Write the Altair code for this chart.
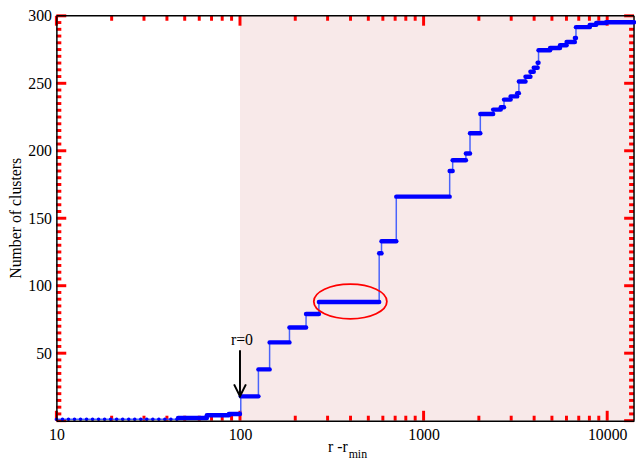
import math
import altair as alt
import pandas as pd

W, H = 585, 410
FONT = "Liberation Serif"

# ---- data: plateaus of the step curve (start r, end r, number of clusters)
seg_start = [10, 46, 66, 87, 101, 126, 145, 186, 229, 269, 573, 590, 710, 1387, 1440, 1700, 1790,
             2037, 2393, 2632, 2742, 2979, 3234, 3304, 3590, 3819, 3981, 4180,
             4227, 4887, 5534, 6010, 6668, 6760, 8035, 8716, 9867]
seg_end = [46, 66, 87, 100, 126, 145, 186, 229, 269, 573, 590, 710, 1387, 1440, 1700, 1790, 2037,
           2393, 2632, 2742, 2979, 3234, 3304, 3590, 3819, 3981, 4180, 4227,
           4887, 5534, 6010, 6668, 6760, 8035, 8716, 9867, 14000]
seg_level = [1, 2, 4, 5, 18, 38, 58, 69, 79, 88, 124, 133, 166, 185, 193, 198, 213,
             227.3, 230.5, 232.2, 237.9, 240.3, 242.7, 251.3, 254.9, 258.6, 261.5, 265.2,
             274.5, 276.2, 278.2, 280.6, 283.5, 291.6, 293.3, 294.7, 295.2]

x_major = [10, 100, 1000, 10000]
x_minor = [m * d for d in (10, 100, 1000) for m in range(2, 10)]
y_major = [0, 50, 100, 150, 200, 250, 300]
y_minor = [v for v in range(0, 301, 5) if v % 50]
y_labels = [50, 100, 150, 200, 250, 300]

X_MIN, X_MAX = 10, 14000
Y_MIN, Y_MAX = 0, 300
shade_from = 100

ellipse_center = (399, 88.3)
arrow_x, arrow_top, arrow_tip = 100, 52.2, 18.1
label_r0 = (100, 55.9)

MAJ, MIN = 10, 5


def ylen(px):
    return px * (Y_MAX - Y_MIN) / H


def xfac(px):
    return 10 ** (px / W * math.log10(X_MAX / X_MIN))


vt = []
for vals, ln in ((x_major, MAJ), (x_minor, MIN)):
    for v in vals:
        vt.append({"tx": float(v), "ty": float(Y_MIN), "ty2": Y_MIN + ylen(ln)})
        vt.append({"tx": float(v), "ty": float(Y_MAX), "ty2": Y_MAX - ylen(ln)})
ht = []
for vals, ln in ((y_major, MAJ), (y_minor, MIN)):
    for v in vals:
        ht.append({"tx": float(X_MIN), "tx2": X_MIN * xfac(ln), "ty": float(v)})
        ht.append({"tx": X_MAX / xfac(ln), "tx2": float(X_MAX), "ty": float(v)})
vticks = pd.DataFrame(vt)
hticks = pd.DataFrame(ht)

segs = pd.DataFrame({"x": seg_start, "x2": seg_end, "y": seg_level})
first = segs.iloc[:1]
rest = segs.iloc[1:]
line = pd.DataFrame({"x": seg_start + [seg_end[-1]], "y": seg_level + [seg_level[-1]]})
shade = pd.DataFrame({"x": [shade_from], "x2": [X_MAX], "y": [Y_MIN], "y2": [Y_MAX]})
frame_h = pd.DataFrame({"x": [X_MIN], "x2": [X_MAX], "y": [Y_MAX]})
frame_v = pd.DataFrame({"x": [X_MAX], "y": [Y_MIN], "y2": [Y_MAX]})
ell = pd.DataFrame({"x": [ellipse_center[0]], "y": [ellipse_center[1]]})
arrow = pd.DataFrame({"x": [arrow_x], "y": [arrow_top], "y2": [arrow_tip]})
head = pd.DataFrame({"x": [arrow_x], "y": [arrow_tip]})
r0 = pd.DataFrame({"x": [label_r0[0]], "y": [label_r0[1]], "t": ["r=0"]})
one = pd.DataFrame({"a": [0]})

xs = alt.Scale(type="log", domain=[X_MIN, X_MAX], nice=False)
ys = alt.Scale(domain=[Y_MIN, Y_MAX], nice=False)
xaxis = alt.Axis(values=x_major, format="d", title=None, ticks=False, grid=False,
                 labelFont=FONT, labelFontSize=16, labelColor="black", labelPadding=6,
                 domainColor="black", domainWidth=1.5, zindex=1, labelFlush=False)
yaxis = alt.Axis(values=y_labels, title=None, ticks=False, grid=False,
                 labelFont=FONT, labelFontSize=16, labelColor="black", labelPadding=5,
                 domainColor="black", domainWidth=1.5, zindex=1, labelFlush=False)


def X(f="x"):
    return alt.X(f"{f}:Q", scale=xs, axis=xaxis)


def Y(f="y"):
    return alt.Y(f"{f}:Q", scale=ys, axis=yaxis)


layers = []
layers.append(alt.Chart(shade).mark_rect(color="#f8e9e9").encode(x=X(), x2="x2", y=Y(), y2="y2"))
layers.append(alt.Chart(vticks).mark_rule(color="red", strokeWidth=3)
              .encode(x=X("tx"), y=Y("ty"), y2="ty2"))
layers.append(alt.Chart(hticks).mark_rule(color="red", strokeWidth=3)
              .encode(x=X("tx"), x2="tx2", y=Y("ty")))
layers.append(alt.Chart(frame_h).mark_rule(color="black", strokeWidth=1.5).encode(x=X(), x2="x2", y=Y()))
layers.append(alt.Chart(frame_v).mark_rule(color="black", strokeWidth=1.5).encode(x=X(), y=Y(), y2="y2"))

layers.append(alt.Chart(line).mark_line(interpolate="step-after", color="#2a4bff", strokeWidth=1.5,
                                        opacity=0.85).encode(x=X(), y=Y()))
layers.append(alt.Chart(first).mark_rule(color="#0000ff", strokeWidth=3.5, strokeCap="round",
                                         strokeDash=[0.1, 6]).encode(x=X(), x2="x2", y=Y()))
layers.append(alt.Chart(rest).mark_rule(color="#0000ff", strokeWidth=4.5, strokeCap="round")
              .encode(x=X(), x2="x2", y=Y()))

ellipse_path = ("M -1 0 C -1 -0.261 -0.552 -0.473 0 -0.473 C 0.552 -0.473 1 -0.261 1 0 "
                "C 1 0.261 0.552 0.473 0 0.473 C -0.552 0.473 -1 0.261 -1 0 Z")
layers.append(alt.Chart(ell).mark_point(shape=ellipse_path, size=74 * 74, filled=False,
                                        color="#ff0000", strokeWidth=1.8, opacity=1)
              .encode(x=X(), y=Y()))

layers.append(alt.Chart(arrow).mark_rule(color="black", strokeWidth=2).encode(x=X(), y=Y(), y2="y2"))
layers.append(alt.Chart(head).mark_point(shape="M -1 -2 L 0 0 L 1 -2", size=144, filled=False,
                                         color="black", strokeWidth=2, opacity=1)
              .encode(x=X(), y=Y()))
layers.append(alt.Chart(r0).mark_text(font=FONT, fontSize=16, color="black", align="center",
                                      baseline="alphabetic", dx=2).encode(x=X(), y=Y(), text="t:N"))

layers.append(alt.Chart(one).mark_text(text="r -r", font=FONT, fontSize=16, color="black",
                                       align="left", baseline="alphabetic")
              .encode(x=alt.value(275), y=alt.value(442)))
layers.append(alt.Chart(one).mark_text(text="min", font=FONT, fontSize=12, color="black",
                                       align="left", baseline="alphabetic")
              .encode(x=alt.value(296), y=alt.value(448)))
layers.append(alt.Chart(one).mark_text(text="Number of clusters", font=FONT, fontSize=16, color="black",
                                       align="center", baseline="middle", angle=270)
              .encode(x=alt.value(-41), y=alt.value(H / 2)))

chart = alt.layer(*layers).properties(
    width=W, height=H,
    autosize=alt.AutoSizeParams(type="none"),
    padding={"left": 49, "top": 5, "right": 2, "bottom": 43},
).configure_view(stroke=None)

chart.save("out.html", embed_options={"renderer": "svg", "actions": False})
